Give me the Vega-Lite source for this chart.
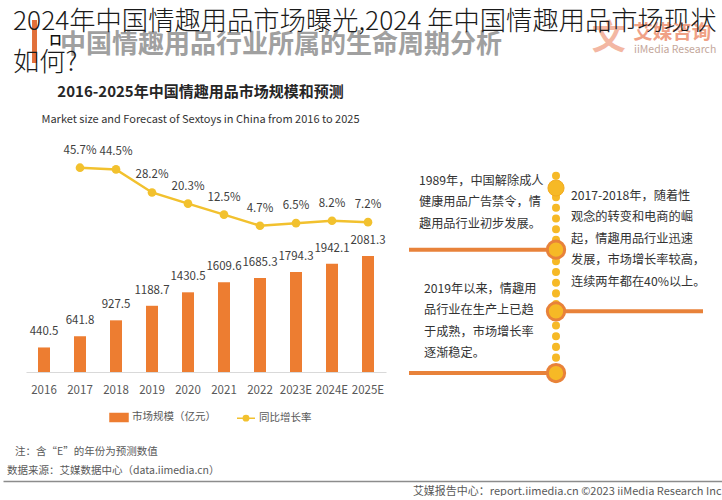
{
  "$schema": "https://vega.github.io/schema/vega-lite/v6.json",
  "background": "white",
  "padding": 0,
  "autosize": {"type": "pad"},
  "config": {
    "view": {"stroke": null},
    "font": "Noto Sans CJK SC",
    "text": {"font": "Noto Sans CJK SC"},
    "title": {"font": "Noto Sans CJK SC", "subtitleFont": "Noto Sans CJK SC"},
    "axis": {"labelFont": "Noto Sans CJK SC", "titleFont": "Noto Sans CJK SC"},
    "legend": {"labelFont": "Noto Sans CJK SC"}
  },
  "datasets": {
    "market": [
      {"year": "2016", "size": 440.5, "growth": null},
      {"year": "2017", "size": 641.8, "growth": 0.457},
      {"year": "2018", "size": 927.5, "growth": 0.445},
      {"year": "2019", "size": 1188.7, "growth": 0.282},
      {"year": "2020", "size": 1430.5, "growth": 0.203},
      {"year": "2021", "size": 1609.6, "growth": 0.125},
      {"year": "2022", "size": 1685.3, "growth": 0.047},
      {"year": "2023E", "size": 1794.3, "growth": 0.065},
      {"year": "2024E", "size": 1942.1, "growth": 0.082},
      {"year": "2025E", "size": 2081.3, "growth": 0.072}
    ],
    "milestones": [
      {"stage": 0, "side": null, "text": null},
      {"stage": 1, "side": "left", "text": "1989年，中国解除成人\n健康用品广告禁令，情\n趣用品行业初步发展。"},
      {"stage": 2, "side": "right", "text": "2017-2018年，随着性\n观念的转变和电商的崛\n起，情趣用品行业迅速\n发展，市场增长率较高，\n连续两年都在40%以上。"},
      {"stage": 3, "side": "left", "text": "2019年以来，情趣用\n品行业在生产上已趋\n于成熟，市场增长率\n逐渐稳定。"}
    ]
  },
  "spacing": 108,
  "bounds": "flush",
  "vconcat": [
    {
      "width": 722,
      "height": 37,
      "data": {"values": [{}]},
      "layer": [
        {
          "mark": {"type": "rect", "fill": "white"},
          "encoding": {
            "x": {"datum": 0, "type": "quantitative", "scale": {"domain": [0, 100], "nice": false, "zero": false}, "axis": null},
            "x2": {"datum": 100},
            "y": {"datum": 0, "type": "quantitative", "scale": {"domain": [0, 100], "nice": false, "zero": false, "reverse": true}, "axis": null},
            "y2": {"datum": 100}
          }
        },
        {
          "mark": {"type": "text", "text": "文", "align": "center", "baseline": "middle", "fontSize": 34, "fontWeight": "bold", "fill": "#F3B7A3"},
          "encoding": {
            "x": {"datum": 83.9, "type": "quantitative", "axis": null},
            "y": {"datum": 105.4, "type": "quantitative", "axis": null}
          }
        },
        {
          "mark": {"type": "text", "text": "艾媒咨询", "align": "left", "baseline": "middle", "fontSize": 19.5, "fontWeight": "bold", "fill": "#F0A186"},
          "encoding": {
            "x": {"datum": 87.3, "type": "quantitative", "axis": null},
            "y": {"datum": 89.2, "type": "quantitative", "axis": null}
          }
        },
        {
          "mark": {"type": "text", "text": "iiMedia Research", "align": "left", "baseline": "middle", "fontSize": 10.5, "fill": "#C4A79B"},
          "encoding": {
            "x": {"datum": 87.4, "type": "quantitative", "axis": null},
            "y": {"datum": 135.1, "type": "quantitative", "axis": null}
          }
        },
        {
          "mark": {"type": "text", "text": "中国情趣用品行业所属的生命周期分析", "align": "left", "baseline": "middle", "fontSize": 26, "fontWeight": "bold", "fill": "#A0A0A0"},
          "encoding": {
            "x": {"datum": 7.9, "type": "quantitative", "axis": null},
            "y": {"datum": 121.6, "type": "quantitative", "axis": null}
          }
        },
        {
          "mark": {"type": "text", "text": "口", "align": "center", "baseline": "middle", "fontSize": 12, "fontWeight": "bold", "fill": "#111111"},
          "encoding": {
            "x": {"datum": 7.27, "type": "quantitative", "axis": null},
            "y": {"datum": 110.8, "type": "quantitative", "axis": null}
          }
        },
        {
          "mark": {"type": "rect", "fill": "#E2703A"},
          "encoding": {
            "x": {"datum": 4.02, "type": "quantitative", "axis": null},
            "x2": {"datum": 4.71},
            "y": {"datum": 54.05, "type": "quantitative", "axis": null},
            "y2": {"datum": 170.3}
          }
        },
        {
          "mark": {"type": "text", "text": "2024年中国情趣用品市场曝光,2024 年中国情趣用品市场现状\n如何?", "lineBreak": "\n", "lineHeight": 41, "align": "left", "baseline": "alphabetic", "fontSize": 26.3, "fontWeight": 300, "fill": "#1A1A1A"},
          "encoding": {
            "x": {"datum": 1.385, "type": "quantitative", "axis": null},
            "y": {"datum": 81.08, "type": "quantitative", "axis": null}
          }
        }
      ]
    },
    {
      "width": 722,
      "height": 227,
      "title": {
        "text": "2016-2025年中国情趣用品市场规模和预测",
        "subtitle": "Market size and Forecast of Sextoys in China from 2016 to 2025",
        "anchor": "middle",
        "frame": "group",
        "dx": -163.5,
        "offset": 20,
        "fontSize": 15,
        "fontWeight": "bold",
        "color": "#262626",
        "subtitleFontSize": 11,
        "subtitleColor": "#333333",
        "subtitlePadding": 14
      },
      "layer": [
        {
          "data": {"name": "market"},
          "encoding": {
            "x": {
              "field": "year",
              "type": "ordinal",
              "sort": null,
              "scale": {
                "type": "band",
                "domain": ["2016", "2017", "2018", "2019", "2020", "2021", "2022", "2023E", "2024E", "2025E"],
                "range": [23, 383],
                "paddingInner": 0,
                "paddingOuter": 0
              },
              "axis": {
                "title": null,
                "ticks": false,
                "domainColor": "#D9D9D9",
                "domainWidth": 1,
                "labelAngle": 0,
                "labelFontSize": 11.5,
                "labelColor": "#595959",
                "labelPadding": 12
              }
            }
          },
          "layer": [
            {
              "encoding": {
                "y": {"field": "size", "type": "quantitative", "scale": {"domain": [0, 4075], "nice": false}, "axis": null}
              },
              "layer": [
                {
                  "mark": {"type": "bar", "size": 12},
                  "encoding": {
                    "color": {
                      "datum": "市场规模（亿元）",
                      "type": "nominal",
                      "scale": {"domain": ["市场规模（亿元）", "同比增长率"], "range": ["#ED7D31", "#F2C12E"]},
                      "legend": {
                        "orient": "none",
                        "legendX": 106,
                        "legendY": 407,
                        "direction": "horizontal",
                        "title": null,
                        "symbolSize": 324,
                        "labelFontSize": 10.5,
                        "labelColor": "#595959",
                        "labelOffset": 3,
                        "columnPadding": 18,
                        "encode": {
                          "symbols": {
                            "update": {
                              "shape": {"signal": "datum.value === '同比增长率' ? 'M-1,0H-0.3M0.3,0H1M0.3,0A0.3,0.3,0,1,1,-0.3,0A0.3,0.3,0,1,1,0.3,0Z' : 'M-1,-0.45H1V0.45H-1Z'"},
                              "fill": {"signal": "datum.value === '同比增长率' ? '#F2C12E' : '#ED7D31'"},
                              "stroke": {"signal": "datum.value === '同比增长率' ? '#F2C12E' : '#ED7D31'"},
                              "strokeWidth": {"value": 1.5},
                              "opacity": {"value": 1},
                              "fillOpacity": {"value": 1}
                            }
                          }
                        }
                      }
                    }
                  }
                },
                {
                  "mark": {"type": "text", "baseline": "middle", "dy": -15, "fontSize": 11.5, "fill": "#404040"},
                  "encoding": {"text": {"field": "size", "type": "quantitative", "format": ".1f"}}
                }
              ]
            },
            {
              "transform": [{"filter": "isValid(datum.growth)"}],
              "encoding": {
                "y": {"field": "growth", "type": "quantitative", "scale": {"domain": [-0.9868, 0.6174], "nice": false, "zero": false}, "axis": null}
              },
              "layer": [
                {
                  "mark": {"type": "line", "strokeWidth": 2.5},
                  "encoding": {"color": {"datum": "同比增长率", "type": "nominal"}}
                },
                {
                  "mark": {"type": "point", "filled": true, "size": 75, "opacity": 1},
                  "encoding": {"color": {"datum": "同比增长率", "type": "nominal"}}
                },
                {
                  "mark": {"type": "text", "baseline": "middle", "dy": -17, "fontSize": 11.5, "fill": "#404040"},
                  "encoding": {"text": {"field": "growth", "type": "quantitative", "format": ".1%"}}
                }
              ]
            }
          ],
          "resolve": {"scale": {"y": "independent"}}
        },
        {
          "data": {"name": "milestones"},
          "layer": [
            {
              "data": {"values": [{}]},
              "mark": {"type": "rule", "strokeWidth": 8, "strokeCap": "round", "strokeDash": [0.1, 10.6], "color": "#F6B926"},
              "encoding": {
                "x": {"datum": "center", "type": "nominal", "scale": {"type": "point", "domain": ["left", "center", "right"], "range": [406, 700], "padding": 0}, "axis": null},
                "y": {"datum": -0.2, "type": "quantitative", "scale": {"domain": [-0.697, 2.983], "reverse": true, "nice": false, "zero": false}, "axis": null},
                "y2": {"datum": 3.24}
              }
            },
            {
              "transform": [{"filter": "datum.side != null"}],
              "mark": {"type": "rule", "strokeWidth": 4, "color": "#E8823A"},
              "encoding": {
                "x": {"field": "side", "type": "nominal", "axis": null},
                "x2": {"datum": "center"},
                "y": {"field": "stage", "type": "quantitative", "axis": null}
              }
            },
            {
              "transform": [{"filter": "datum.stage == 0"}],
              "mark": {"type": "point", "shape": "circle", "filled": true, "size": 260, "fill": "#F6B926", "stroke": "#F2AA1F", "strokeWidth": 1, "opacity": 1},
              "encoding": {
                "x": {"datum": "center", "type": "nominal", "axis": null},
                "y": {"field": "stage", "type": "quantitative", "axis": null}
              }
            },
            {
              "transform": [{"filter": "datum.stage > 0"}],
              "mark": {"type": "point", "shape": "circle", "filled": true, "size": 300, "fill": "#F6B926", "stroke": "#E8823A", "strokeWidth": 3, "opacity": 1},
              "encoding": {
                "x": {"datum": "center", "type": "nominal", "axis": null},
                "y": {"field": "stage", "type": "quantitative", "axis": null}
              }
            },
            {
              "transform": [{"filter": "datum.stage == 1"}],
              "mark": {"type": "text", "align": "left", "baseline": "top", "lineBreak": "\n", "lineHeight": 21.5, "fontSize": 12.2, "dx": 10, "dy": -75, "fill": "#333333"},
              "encoding": {
                "x": {"datum": "left", "type": "nominal", "axis": null},
                "y": {"field": "stage", "type": "quantitative", "axis": null},
                "text": {"field": "text", "type": "nominal"}
              }
            },
            {
              "transform": [{"filter": "datum.stage == 2"}],
              "mark": {"type": "text", "align": "left", "baseline": "top", "lineBreak": "\n", "lineHeight": 21.5, "fontSize": 12.2, "dx": 15, "dy": -121.6, "fill": "#333333"},
              "encoding": {
                "x": {"datum": "center", "type": "nominal", "axis": null},
                "y": {"field": "stage", "type": "quantitative", "axis": null},
                "text": {"field": "text", "type": "nominal"}
              }
            },
            {
              "transform": [{"filter": "datum.stage == 3"}],
              "mark": {"type": "text", "align": "left", "baseline": "top", "lineBreak": "\n", "lineHeight": 21.5, "fontSize": 12.2, "dx": 15, "dy": -90.3, "fill": "#333333"},
              "encoding": {
                "x": {"datum": "left", "type": "nominal", "axis": null},
                "y": {"field": "stage", "type": "quantitative", "axis": null},
                "text": {"field": "text", "type": "nominal"}
              }
            }
          ]
        }
      ],
      "resolve": {"scale": {"x": "independent", "y": "independent"}}
    },
    {
      "width": 722,
      "height": 1,
      "data": {"values": [{}]},
      "title": {
        "text": "\u2800注：含“E”的年份为预测数值",
        "subtitle": "数据来源：艾媒数据中心（data.iimedia.cn）",
        "anchor": "start",
        "frame": "group",
        "dx": 4,
        "offset": 1,
        "fontSize": 10.5,
        "fontWeight": "normal",
        "color": "#595959",
        "subtitleFontSize": 10.5,
        "subtitleColor": "#595959",
        "subtitlePadding": 9
      },
      "mark": {"type": "point", "opacity": 0},
      "encoding": {
        "x": {
          "datum": 0,
          "type": "quantitative",
          "scale": {"domain": [0, 1], "nice": false},
          "axis": {
            "orient": "bottom",
            "domain": true,
            "domainColor": "#8C8C8C",
            "domainWidth": 1.5,
            "ticks": false,
            "labels": false,
            "grid": false,
            "title": "艾媒报告中心：report.iimedia.cn ©2023 iiMedia Research Inc",
            "titleX": 718,
            "titleAlign": "right",
            "titleFontSize": 11,
            "titleFontWeight": "normal",
            "titleColor": "#595959",
            "titlePadding": 4
          }
        }
      }
    }
  ]
}
